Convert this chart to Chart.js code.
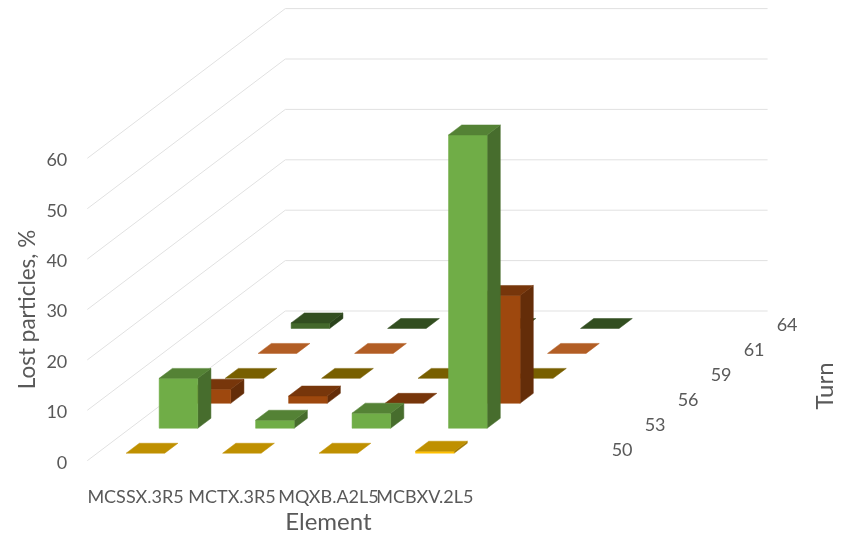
<!DOCTYPE html>
<html lang="en">
<head>
    <meta charset="UTF-8">
    <title>Lost particles by element and turn</title>
    <script src="https://cdn.jsdelivr.net/npm/chart.js"></script>
    <style>
        body { margin: 0; background: #fff; }
    </style>
</head>
<body>
<canvas id="lossChart" width="848" height="537"></canvas>

<script>
    // Last category is left blank, it only reserves room on the floor
    const elements = ['MCSSX.3R5', 'MCTX.3R5', 'MQXB.A2L5', 'MCBXV.2L5', ''];
    const turns = ['50', '53', '56', '59', '61', '64'];

    const lostTurn50 = [0, 0, 0, 0.4];
    const lostTurn53 = [9.9, 1.6, 3.0, 58.2];
    const lostTurn56 = [2.8, 1.45, 0, 21.4];
    const lostTurn59 = [0, 0, 0, 0];
    const lostTurn61 = [0, 0, 0, 0];
    const lostTurn64 = [1.1, 0, 0, 0];

    const lostByTurn = [lostTurn50, lostTurn53, lostTurn56, lostTurn59, lostTurn61, lostTurn64];
    const turnColors = ['#FFC000', '#70AD47', '#9E480E', '#A07F00', '#ED7D31', '#43682B'];

    const textColor = '#595959';
    const fontFamily = 'Lato';

    // Oblique projection: how far one turn row shifts a point on screen
    const rowDx = 33;
    const rowDy = 24.95;
    const barWidth = 0.4;   // share of a category band
    const barDepth = 0.4;   // share of a turn row

    function project(px, py, depth) {
        return [px + depth * rowDx, py - depth * rowDy];
    }

    function shade(hex, k) {
        const n = parseInt(hex.slice(1), 16);
        const r = Math.round((n >> 16 & 255) * k);
        const g = Math.round((n >> 8 & 255) * k);
        const b = Math.round((n & 255) * k);
        return `rgb(${r}, ${g}, ${b})`;
    }

    function fillFace(ctx, points, color) {
        ctx.beginPath();
        points.forEach((p, i) => i ? ctx.lineTo(p[0], p[1]) : ctx.moveTo(p[0], p[1]));
        ctx.closePath();
        ctx.fillStyle = color;
        ctx.fill();
        ctx.strokeStyle = color;
        ctx.lineWidth = 0.5;
        ctx.stroke();
    }

    function drawBar(ctx, scales, column, row, value, color) {
        const band = scales.x.getPixelForValue(1) - scales.x.getPixelForValue(0);
        const x0 = scales.x.getPixelForValue(column) - band * barWidth / 2;
        const x1 = x0 + band * barWidth;
        const base = scales.y.getPixelForValue(0);
        const top = scales.y.getPixelForValue(value);
        const d0 = row + (1 - barDepth) / 2;
        const d1 = d0 + barDepth;

        if (value > 0) {
            fillFace(ctx, [project(x1, base, d0), project(x1, base, d1), project(x1, top, d1), project(x1, top, d0)], shade(color, 0.63));
            fillFace(ctx, [project(x0, base, d0), project(x1, base, d0), project(x1, top, d0), project(x0, top, d0)], color);
        }
        fillFace(ctx, [project(x0, top, d0), project(x1, top, d0), project(x1, top, d1), project(x0, top, d1)], shade(color, 0.75));
    }

    const depthChart = {
        id: 'depthChart',
        beforeDatasetsDraw(chart) {
            const { ctx, scales } = chart;
            const left = scales.x.left;
            const right = scales.x.right;
            const rows = turns.length;

            // side wall and back wall grid
            ctx.save();
            ctx.strokeStyle = '#E1E1E1';
            ctx.lineWidth = 1;
            scales.y.ticks.forEach(tick => {
                const py = scales.y.getPixelForValue(tick.value);
                const a = project(left, py, 0);
                const b = project(left, py, rows);
                const c = project(right, py, rows);
                ctx.beginPath();
                ctx.moveTo(a[0], a[1]);
                ctx.lineTo(b[0], b[1]);
                ctx.lineTo(c[0], c[1]);
                ctx.stroke();
            });

            // rows from the back so nearer bars cover farther ones
            for (let row = rows - 1; row >= 0; row--) {
                const dataset = chart.data.datasets[row];
                dataset.data.forEach((value, column) => {
                    drawBar(ctx, scales, column, row, value, dataset.backgroundColor);
                });
            }

            // turn axis labels along the right floor edge
            const base = scales.y.getPixelForValue(0);
            ctx.fillStyle = textColor;
            ctx.font = `18px ${fontFamily}`;
            ctx.textAlign = 'center';
            ctx.textBaseline = 'middle';
            turns.forEach((turn, row) => {
                const p = project(right, base, row + 0.5);
                ctx.fillText(turn, p[0] + 36, p[1] + 2);
            });

            ctx.font = `24px ${fontFamily}`;
            ctx.translate(825, 386);
            ctx.rotate(-Math.PI / 2);
            ctx.fillText('Turn', 0, 0);
            ctx.restore();
        },
        // the bars are painted above, in projection
        beforeDatasetDraw() {
            return false;
        }
    };

    // Lato sits high on a middle baseline, nudge the value labels down
    function nudgeLabels(scale) {
        if (scale.labelsNudged) return;
        const drawLabels = scale.drawLabels;
        scale.drawLabels = function (area) {
            this.ctx.save();
            this.ctx.translate(0, 2);
            drawLabels.call(this, area);
            this.ctx.restore();
        };
        scale.labelsNudged = true;
    }

    new Chart(document.getElementById('lossChart'), {
        type: 'bar',
        data: {
            labels: elements,
            datasets: turns.map((turn, i) => ({
                label: turn,
                data: lostByTurn[i],
                backgroundColor: turnColors[i]
            }))
        },
        plugins: [depthChart],
        options: {
            responsive: false,
            animation: false,
            layout: {
                padding: { top: 158.3, right: 278.4, left: 0, bottom: 0 }
            },
            plugins: {
                legend: { display: false },
                tooltip: { enabled: false }
            },
            scales: {
                x: {
                    grid: { display: false },
                    border: { display: false },
                    afterFit(scale) { scale.height = 76.3; },
                    ticks: {
                        color: textColor,
                        font: { family: fontFamily, size: 18 },
                        padding: 18,
                        autoSkip: false,
                        maxRotation: 0,
                        minRotation: 0
                    },
                    title: {
                        display: true,
                        text: 'Element',
                        color: textColor,
                        font: { family: fontFamily, size: 24 },
                        padding: { top: 0, bottom: 0 }
                    }
                },
                y: {
                    min: 0,
                    max: 60,
                    grid: { display: false, drawTicks: false },
                    border: { display: false },
                    afterFit(scale) { scale.width = 87.3; },
                    afterUpdate: nudgeLabels,
                    ticks: {
                        stepSize: 10,
                        color: textColor,
                        font: { family: fontFamily, size: 18 },
                        padding: 20
                    },
                    title: {
                        display: true,
                        text: 'Lost particles, %',
                        color: textColor,
                        font: { family: fontFamily, size: 22.5 },
                        padding: { top: 14, bottom: 0 }
                    }
                }
            }
        }
    });
</script>
</body>
</html>
